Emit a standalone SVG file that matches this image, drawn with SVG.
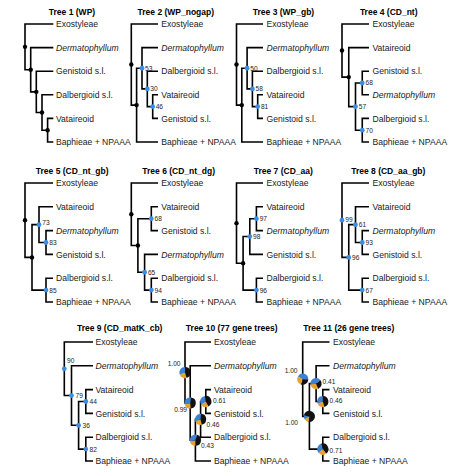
<svg xmlns="http://www.w3.org/2000/svg" width="474" height="476" viewBox="0 0 474 476">
<style>
.br{fill:none;stroke:#000;stroke-width:1.6;stroke-linejoin:miter}
text{font-family:"Liberation Sans",Arial,sans-serif}
.lf{font-size:8.6px;fill:#1a1a1a}
.it{font-style:italic}
.tt{font-size:8.5px;font-weight:bold;text-anchor:middle;fill:#000}
.sp{font-size:6.6px;fill:#222}
.e{text-anchor:end}
.bd{fill:#000}
.bl{fill:#3a8ee8}
</style>
<defs>
<g id="pieA"><path fill="#111" d="M0,0L0,-5.6A5.6,5.6 0 0 1 1.449,5.41Z"/><path fill="#e8a030" d="M0,0L1.449,5.41A5.6,5.6 0 0 1 -5.075,2.367Z"/><path fill="#3b82d6" d="M0,0L-5.075,2.367A5.6,5.6 0 0 1 0,-5.6Z"/></g>
<g id="pieB"><path fill="#3b82d6" d="M0,0L-4.85,-2.8A5.6,5.6 0 0 1 5.6,0Z"/><path fill="#111" d="M0,0L5.6,0A5.6,5.6 0 0 1 -1.915,5.262Z"/><path fill="#e8a030" d="M0,0L-1.915,5.262A5.6,5.6 0 0 1 -4.85,-2.8Z"/></g>
<g id="pieC"><path fill="#111" d="M0,0L-5.515,-0.972A5.6,5.6 0 1 1 -0.972,5.515Z"/><path fill="#e8a030" d="M0,0L-0.972,5.515A5.6,5.6 0 0 1 -4.85,2.8Z"/><path fill="#3b82d6" d="M0,0L-4.85,2.8A5.6,5.6 0 0 1 -5.515,-0.972Z"/></g>
</defs>
<rect width="474" height="476" fill="#fff"/>
<g id="connectors" class="br">
<path d="M53.3,24H25V69.7H30.7M53.3,47.6H30.7V91.85H36.3M53.3,71.2H36.3V112.5H42M53.3,94.8H42V130.2H47.6M53.3,118.4H47.6V142H53.3"/>
<path d="M158,24H131.3V105.1H136.6M142,68.25H136.6V142H158M158,47.6H142V88.9H147.3M158,71.2H147.3V106.6H152.7M158,94.8H152.7V118.4H158"/>
<path d="M263,24H236.5V105.1H241.8M247.1,68.25H241.8V142H263M263,47.6H247.1V88.9H252.4M263,71.2H252.4V106.6H257.7M263,94.8H257.7V118.4H263"/>
<path d="M369,24H342V77.1H348.75M369,47.6H348.75V106.6H355.5M362.25,83H355.5V130.2H362.25M369,71.2H362.25V94.8H369M369,118.4H362.25V142H369"/>
<path d="M53,183H25V257.4H32M39,224.65H32V290.1H46M53,206.8H39V242.5H46M53,230.6H46V254.4H53M53,278.2H46V302H53"/>
<path d="M158,183H131.3V245.5H137.9M151.3,218.7H137.9V272.25H144.6M158,254.4H144.6V290.1H151.3M158,206.8H151.3V230.6H158M158,278.2H151.3V302H158"/>
<path d="M263,183H236.5V263.3H243.1M249.8,236.55H243.1V290.1H256.4M256.4,218.7H249.8V254.4H263M263,206.8H256.4V230.6H263M263,278.2H256.4V302H263"/>
<path d="M369,183H342V257.4H348.75M355.5,224.65H348.75V290.1H362.25M369,206.8H355.5V242.5H362.25M369,230.6H362.25V254.4H369M369,278.2H362.25V302H369"/>
<path d="M93,342H64.3V395.55H71.5M93,365.8H71.5V425.3H78.6M85.8,401.5H78.6V449.1H85.8M93,389.6H85.8V413.4H93M93,437.2H85.8V461H93"/>
<path d="M211,342H185V403H190.2M211,365.8H190.2V440.2H195.4M200.6,419.35H195.4V461H211M205.8,401.5H200.6V437.2H211M211,389.6H205.8V413.4H211"/>
<path d="M329.5,342H302.7V416.4H309.4M316.1,383.65H309.4V449.1H322.8M329.5,365.8H316.1V401.5H322.8M329.5,389.6H322.8V413.4H329.5M329.5,437.2H322.8V461H329.5"/>
</g>
<g id="tree1">
<text class="tt" x="72" y="15">Tree 1 (WP)</text>
<circle class="bd" cx="25" cy="46.86" r="2.2"/><circle class="bd" cx="30.7" cy="69.73" r="2.2"/><circle class="bd" cx="36.3" cy="91.85" r="2.2"/><circle class="bd" cx="42" cy="112.5" r="2.2"/><circle class="bd" cx="47.6" cy="130.2" r="2.2"/>
<text class="lf" x="56" y="27.1">Exostyleae</text><text class="lf it" x="56" y="50.7">Dermatophyllum</text><text class="lf" x="56" y="74.3">Genistoid s.l.</text><text class="lf" x="56" y="97.9">Dalbergioid s.l.</text><text class="lf" x="56" y="121.5">Vataireoid</text><text class="lf" x="56" y="145.1">Baphieae + NPAAA</text>
</g>
<g id="tree2">
<text class="tt" x="175.8" y="15">Tree 2 (WP_nogap)</text>
<circle class="bd" cx="131.3" cy="64.55" r="2.2"/><circle class="bd" cx="136.6" cy="105.1" r="2.2"/>
<circle class="bl" cx="142" cy="68.25" r="2.4"/><circle class="bl" cx="147.3" cy="88.9" r="2.4"/><circle class="bl" cx="152.7" cy="106.6" r="2.4"/>
<text class="sp" x="145" y="70.65">53</text><text class="sp" x="150.3" y="91.3">30</text><text class="sp" x="155.7" y="109">46</text>
<text class="lf" x="161.3" y="27.1">Exostyleae</text><text class="lf it" x="161.3" y="50.7">Dermatophyllum</text><text class="lf" x="161.3" y="74.3">Dalbergioid s.l.</text><text class="lf" x="161.3" y="97.9">Vataireoid</text><text class="lf" x="161.3" y="121.5">Genistoid s.l.</text><text class="lf" x="161.3" y="145.1">Baphieae + NPAAA</text>
</g>
<g id="tree3">
<text class="tt" x="283.5" y="15">Tree 3 (WP_gb)</text>
<circle class="bd" cx="236.5" cy="64.55" r="2.2"/><circle class="bd" cx="241.8" cy="105.1" r="2.2"/>
<circle class="bl" cx="247.1" cy="68.25" r="2.4"/><circle class="bl" cx="252.4" cy="88.9" r="2.4"/><circle class="bl" cx="257.7" cy="106.6" r="2.4"/>
<text class="sp" x="250.3" y="70.65">50</text><text class="sp" x="255.6" y="91.3">58</text><text class="sp" x="260.9" y="109">81</text>
<text class="lf" x="266.5" y="27.1">Exostyleae</text><text class="lf it" x="266.5" y="50.7">Dermatophyllum</text><text class="lf" x="266.5" y="74.3">Dalbergioid s.l.</text><text class="lf" x="266.5" y="97.9">Vataireoid</text><text class="lf" x="266.5" y="121.5">Genistoid s.l.</text><text class="lf" x="266.5" y="145.1">Baphieae + NPAAA</text>
</g>
<g id="tree4">
<text class="tt" x="388.7" y="15">Tree 4 (CD_nt)</text>
<circle class="bd" cx="342" cy="50.55" r="2.2"/><circle class="bd" cx="348.75" cy="77.1" r="2.2"/>
<circle class="bl" cx="355.5" cy="106.6" r="2.4"/><circle class="bl" cx="362.25" cy="83" r="2.4"/><circle class="bl" cx="362.25" cy="130.2" r="2.4"/>
<text class="sp" x="358.8" y="109">57</text><text class="sp" x="365.5" y="85.4">68</text><text class="sp" x="365.5" y="132.6">70</text>
<text class="lf" x="372.5" y="27.1">Exostyleae</text><text class="lf" x="372.5" y="50.7">Vataireoid</text><text class="lf" x="372.5" y="74.3">Genistoid s.l.</text><text class="lf it" x="372.5" y="97.9">Dermatophyllum</text><text class="lf" x="372.5" y="121.5">Dalbergioid s.l.</text><text class="lf" x="372.5" y="145.1">Baphieae + NPAAA</text>
</g>
<g id="tree5">
<text class="tt" x="72.2" y="173.7">Tree 5 (CD_nt_gb)</text>
<circle class="bd" cx="25" cy="220.2" r="2.2"/><circle class="bd" cx="32" cy="257.4" r="2.2"/>
<circle class="bl" cx="39" cy="224.65" r="2.4"/><circle class="bl" cx="46" cy="242.5" r="2.4"/><circle class="bl" cx="46" cy="290.1" r="2.4"/>
<text class="sp" x="42.3" y="224.5">73</text><text class="sp" x="49.3" y="244.9">83</text><text class="sp" x="49.3" y="292.5">85</text>
<text class="lf" x="56" y="186.1">Exostyleae</text><text class="lf" x="56" y="209.9">Vataireoid</text><text class="lf it" x="56" y="233.7">Dermatophyllum</text><text class="lf" x="56" y="257.5">Genistoid s.l.</text><text class="lf" x="56" y="281.3">Dalbergioid s.l.</text><text class="lf" x="56" y="305.1">Baphieae + NPAAA</text>
</g>
<g id="tree6">
<text class="tt" x="178.7" y="173.7">Tree 6 (CD_nt_dg)</text>
<circle class="bd" cx="131.3" cy="214.25" r="2.2"/><circle class="bd" cx="137.9" cy="245.5" r="2.2"/>
<circle class="bl" cx="151.3" cy="218.7" r="2.4"/><circle class="bl" cx="144.6" cy="272.25" r="2.4"/><circle class="bl" cx="151.3" cy="290.1" r="2.4"/>
<text class="sp" x="154.6" y="221.1">68</text><text class="sp" x="147.9" y="274.65">65</text><text class="sp" x="154.6" y="292.5">94</text>
<text class="lf" x="161.3" y="186.1">Exostyleae</text><text class="lf" x="161.3" y="209.9">Vataireoid</text><text class="lf" x="161.3" y="233.7">Genistoid s.l.</text><text class="lf it" x="161.3" y="257.5">Dermatophyllum</text><text class="lf" x="161.3" y="281.3">Dalbergioid s.l.</text><text class="lf" x="161.3" y="305.1">Baphieae + NPAAA</text>
</g>
<g id="tree7">
<text class="tt" x="283.3" y="173.7">Tree 7 (CD_aa)</text>
<circle class="bd" cx="236.5" cy="223.15" r="2.2"/><circle class="bd" cx="243.1" cy="263.3" r="2.2"/>
<circle class="bl" cx="249.8" cy="236.55" r="2.4"/><circle class="bl" cx="256.4" cy="218.7" r="2.4"/><circle class="bl" cx="256.4" cy="290.1" r="2.4"/>
<text class="sp" x="253.1" y="238.95">98</text><text class="sp" x="259.7" y="221.1">97</text><text class="sp" x="259.7" y="292.5">96</text>
<text class="lf" x="266.5" y="186.1">Exostyleae</text><text class="lf" x="266.5" y="209.9">Vataireoid</text><text class="lf it" x="266.5" y="233.7">Dermatophyllum</text><text class="lf" x="266.5" y="257.5">Genistoid s.l.</text><text class="lf" x="266.5" y="281.3">Dalbergioid s.l.</text><text class="lf" x="266.5" y="305.1">Baphieae + NPAAA</text>
</g>
<g id="tree8">
<text class="tt" x="388.3" y="173.7">Tree 8 (CD_aa_gb)</text>
<circle class="bl" cx="342" cy="220.2" r="2.4"/><circle class="bl" cx="348.75" cy="257.4" r="2.4"/><circle class="bl" cx="355.5" cy="224.65" r="2.4"/><circle class="bl" cx="362.25" cy="242.5" r="2.4"/><circle class="bl" cx="362.25" cy="290.1" r="2.4"/>
<text class="sp" x="345.3" y="222">99</text><text class="sp" x="352" y="259.8">96</text><text class="sp" x="358.8" y="227.05">61</text><text class="sp" x="365.5" y="244.9">93</text><text class="sp" x="365.5" y="292.5">67</text>
<text class="lf" x="372.5" y="186.1">Exostyleae</text><text class="lf" x="372.5" y="209.9">Vataireoid</text><text class="lf it" x="372.5" y="233.7">Dermatophyllum</text><text class="lf" x="372.5" y="257.5">Genistoid s.l.</text><text class="lf" x="372.5" y="281.3">Dalbergioid s.l.</text><text class="lf" x="372.5" y="305.1">Baphieae + NPAAA</text>
</g>
<g id="tree9">
<text class="tt" x="119.7" y="331.3">Tree 9 (CD_matK_cb)</text>
<circle class="bl" cx="64.3" cy="368.8" r="2.4"/><circle class="bl" cx="71.5" cy="395.55" r="2.4"/><circle class="bl" cx="78.6" cy="425.3" r="2.4"/><circle class="bl" cx="85.8" cy="401.5" r="2.4"/><circle class="bl" cx="85.8" cy="449.1" r="2.4"/>
<text class="sp" x="67" y="363">90</text><text class="sp" x="75.5" y="398">79</text><text class="sp" x="82.5" y="427.7">36</text><text class="sp" x="89.5" y="403.9">44</text><text class="sp" x="89.5" y="451.5">82</text>
<text class="lf" x="95.5" y="345.1">Exostyleae</text><text class="lf it" x="95.5" y="368.9">Dermatophyllum</text><text class="lf" x="95.5" y="392.7">Vataireoid</text><text class="lf" x="95.5" y="416.5">Genistoid s.l.</text><text class="lf" x="95.5" y="440.3">Dalbergioid s.l.</text><text class="lf" x="95.5" y="464.1">Baphieae + NPAAA</text>
</g>
<g id="tree10">
<text class="tt" x="231.7" y="331.3">Tree 10 (77 gene trees)</text>
<use href="#pieA" transform="translate(185,372.5)"/>
<use href="#pieA" transform="translate(190.2,403) rotate(10)"/>
<use href="#pieA" transform="translate(195.4,440.2) rotate(15)"/>
<use href="#pieA" transform="translate(200.6,419.35) rotate(5)"/>
<use href="#pieA" transform="translate(205.8,401.5) rotate(-10)"/>
<text class="sp e" x="180.5" y="365.7">1.00</text><text class="sp e" x="187" y="411.5">0.99</text><text class="sp" x="213" y="402.5">0.61</text><text class="sp" x="206.5" y="427">0.46</text><text class="sp" x="201" y="447.5">0.43</text>
<text class="lf" x="214" y="345.1">Exostyleae</text><text class="lf it" x="214" y="368.9">Dermatophyllum</text><text class="lf" x="214" y="392.7">Vataireoid</text><text class="lf" x="214" y="416.5">Genistoid s.l.</text><text class="lf" x="214" y="440.3">Dalbergioid s.l.</text><text class="lf" x="214" y="464.1">Baphieae + NPAAA</text>
</g>
<g id="tree11">
<text class="tt" x="348.8" y="331.3">Tree 11 (26 gene trees)</text>
<use href="#pieB" transform="translate(302.7,379.2)"/>
<use href="#pieB" transform="translate(316.1,383.65) rotate(-40)"/>
<use href="#pieA" transform="translate(322.8,401.5)"/>
<use href="#pieC" transform="translate(309.4,416.4)"/>
<use href="#pieA" transform="translate(322.8,449.1) rotate(-20)"/>
<text class="sp e" x="297.5" y="373">1.00</text><text class="sp" x="322.5" y="384">0.41</text><text class="sp" x="329.5" y="402.5">0.46</text><text class="sp e" x="298" y="425">1.00</text><text class="sp" x="329.5" y="452.5">0.71</text>
<text class="lf" x="333" y="345.1">Exostyleae</text><text class="lf it" x="333" y="368.9">Dermatophyllum</text><text class="lf" x="333" y="392.7">Vataireoid</text><text class="lf" x="333" y="416.5">Genistoid s.l.</text><text class="lf" x="333" y="440.3">Dalbergioid s.l.</text><text class="lf" x="333" y="464.1">Baphieae + NPAAA</text>
</g>
</svg>
